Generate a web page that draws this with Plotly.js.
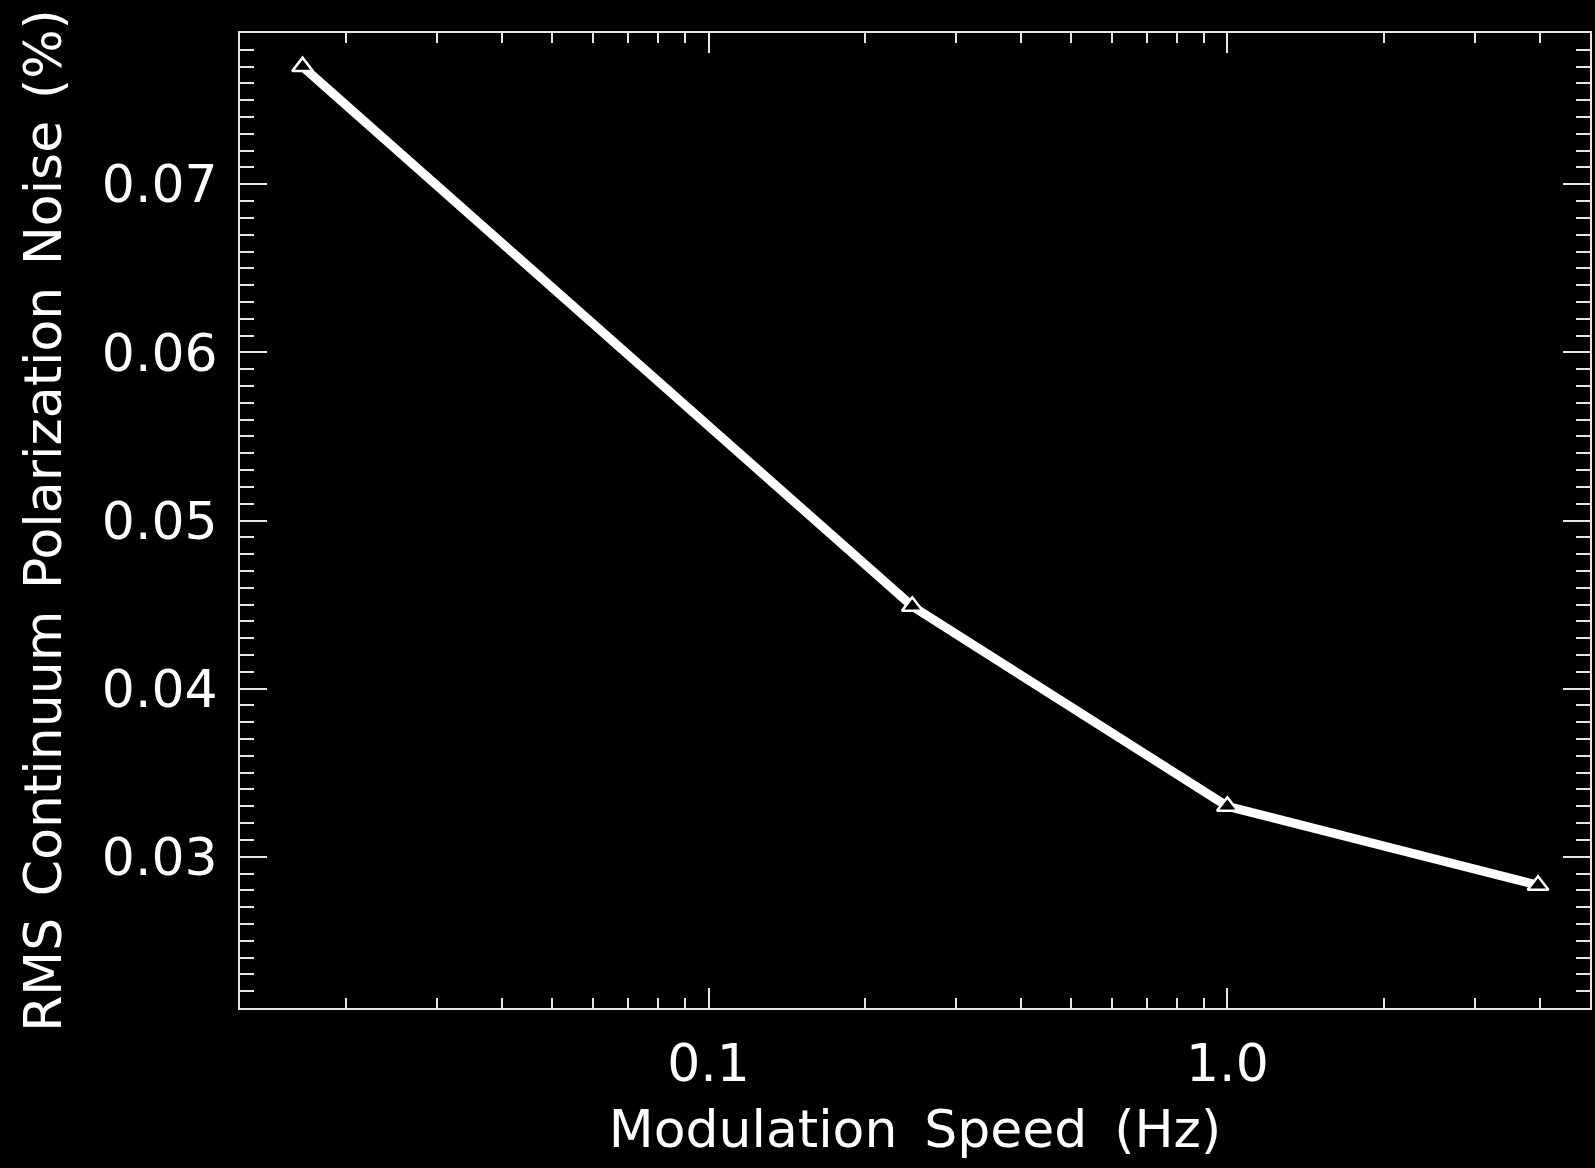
<!DOCTYPE html>
<html>
<head>
<meta charset="utf-8">
<script src="https://cdn.plot.ly/plotly-3.0.1.min.js"></script>
<style>
html,body{margin:0;padding:0;background:#000;}
#chart{width:1595px;height:1168px;}
</style>
</head>
<body>
<div id="chart"></div>
<script>
// Data
const modulationSpeedHz = [0.0165, 0.247, 1.0, 3.97];
const rmsNoisePercent   = [0.0770, 0.0449, 0.0330, 0.0283];

// Axis ticks
const xMajorTicks  = [0.1, 1.0];
const xMajorLabels = ['0.1', '1.0'];
const xMinorTicks  = [0.02, 0.03, 0.04, 0.05, 0.06, 0.07, 0.08, 0.09,
                      0.2, 0.3, 0.4, 0.5, 0.6, 0.7, 0.8, 0.9, 2, 3, 4];
const yMajorTicks  = [0.03, 0.04, 0.05, 0.06, 0.07];
const yMajorLabels = ['0.03', '0.04', '0.05', '0.06', '0.07'];
const yMinorTicks  = [0.022,0.023,0.024,0.025,0.026,0.027,0.028,0.029,
                      0.031,0.032,0.033,0.034,0.035,0.036,0.037,0.038,0.039,
                      0.041,0.042,0.043,0.044,0.045,0.046,0.047,0.048,0.049,
                      0.051,0.052,0.053,0.054,0.055,0.056,0.057,0.058,0.059,
                      0.061,0.062,0.063,0.064,0.065,0.066,0.067,0.068,0.069,
                      0.071,0.072,0.073,0.074,0.075,0.076,0.077,0.078];

const xTitle = 'Modulation\u2009 Speed\u2009 (Hz)';
const yTitle = 'RMS\u200A Continuum\u200A Polarization\u200A Noise\u200A (%)';

const xRange = [0.0125, 5];
const yRange = [0.021, 0.079];

const axisColor = '#e6e6e6';
const fontFam = 'DejaVu Sans, sans-serif';

const trace = {
  x: modulationSpeedHz,
  y: rmsNoisePercent,
  type: 'scatter',
  mode: 'lines+markers',
  line: {color: '#ffffff', width: 9},
  marker: {symbol: 'triangle-up', size: 18, color: '#000000',
           line: {color: '#ffffff', width: 2.5}},
  showlegend: false,
  hoverinfo: 'x+y'
};

const layout = {
  width: 1595,
  height: 1168,
  paper_bgcolor: '#000000',
  plot_bgcolor: '#000000',
  margin: {l: 240, r: 5, t: 33, b: 160, pad: 0},
  font: {family: fontFam, color: '#ffffff', size: 52},
  showlegend: false,
  xaxis: {
    type: 'log',
    range: [Math.log10(xRange[0]), Math.log10(xRange[1])],
    tickmode: 'array',
    tickvals: xMajorTicks,
    ticktext: xMajorLabels,
    ticks: 'inside',
    ticklen: 20,
    tickwidth: 2,
    tickcolor: axisColor,
    minor: {tickmode: 'array', tickvals: xMinorTicks, ticks: 'inside',
            ticklen: 10, tickwidth: 2, tickcolor: axisColor, showgrid: false},
    showline: true,
    linecolor: axisColor,
    linewidth: 2,
    mirror: 'ticks',
    showgrid: false,
    zeroline: false,
    ticklabelstandoff: 9,
    tickfont: {family: fontFam, size: 52, color: '#ffffff'},
    title: {text: xTitle, standoff: 18,
            font: {family: fontFam, size: 52, color: '#ffffff'}}
  },
  yaxis: {
    type: 'linear',
    range: yRange,
    tickmode: 'array',
    tickvals: yMajorTicks,
    ticktext: yMajorLabels,
    ticks: 'inside',
    ticklen: 27,
    tickwidth: 2,
    tickcolor: axisColor,
    minor: {tickmode: 'array', tickvals: yMinorTicks, ticks: 'inside',
            ticklen: 14, tickwidth: 2, tickcolor: axisColor, showgrid: false},
    showline: true,
    linecolor: axisColor,
    linewidth: 2,
    mirror: 'ticks',
    showgrid: false,
    zeroline: false,
    ticklabelstandoff: 10,
    tickfont: {family: fontFam, size: 52, color: '#ffffff'},
    title: {text: yTitle, standoff: 24,
            font: {family: fontFam, size: 52, color: '#ffffff'}}
  }
};

Plotly.newPlot('chart', [trace], layout, {displayModeBar: false, staticPlot: true});
</script>
</body>
</html>
